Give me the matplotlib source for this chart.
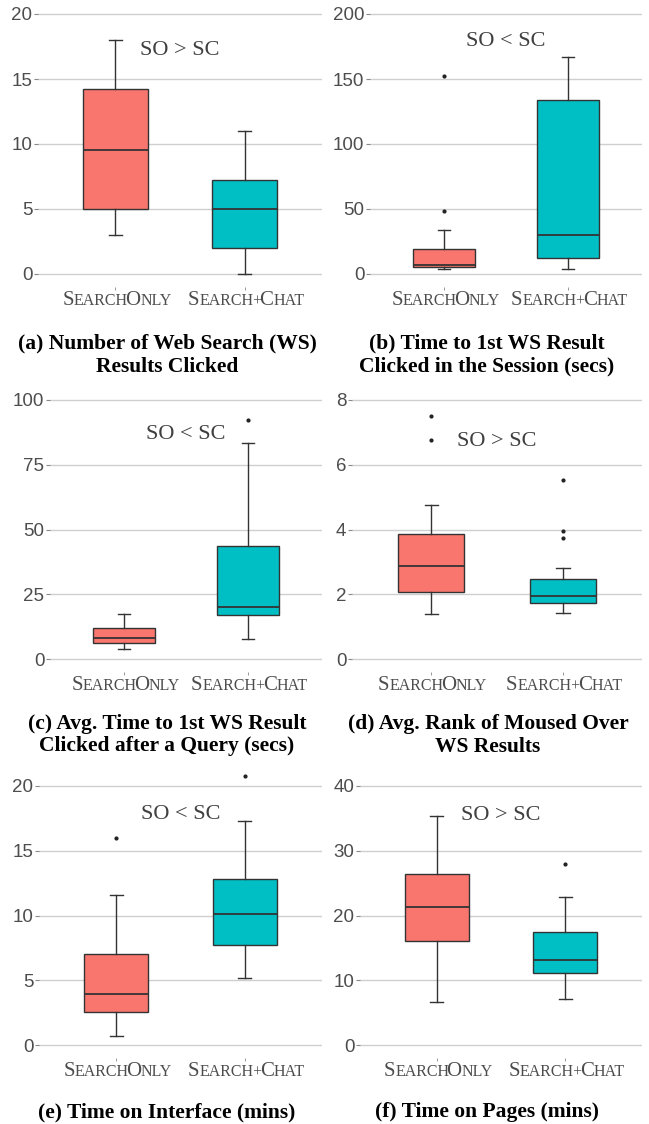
import matplotlib
matplotlib.use("Agg")
import matplotlib.pyplot as plt
from matplotlib.transforms import ScaledTranslation

# box stats: [whisker low, q1, median, q3, whisker high]
clicks_so = [3.0, 5.0, 9.5, 14.2, 18.0]
clicks_so_out = []
clicks_sc = [0.0, 2.0, 5.0, 7.25, 11.0]
clicks_sc_out = []

first_session_so = [3.6, 5.6, 6.9, 19.5, 34.1]
first_session_so_out = [48.8, 152.2]
first_session_sc = [3.6, 12.3, 30.0, 133.8, 166.6]
first_session_sc_out = []

first_query_so = [3.7, 6.3, 8.0, 11.8, 17.5]
first_query_so_out = []
first_query_sc = [7.8, 17.0, 20.2, 43.7, 83.2]
first_query_sc_out = [92.3]

rank_so = [1.39, 2.07, 2.87, 3.85, 4.77]
rank_so_out = [6.75, 7.51]
rank_sc = [1.42, 1.72, 1.96, 2.48, 2.81]
rank_sc_out = [3.75, 3.94, 5.53]

interface_so = [0.72, 2.57, 3.96, 7.02, 11.6]
interface_so_out = [16.0]
interface_sc = [5.14, 7.71, 10.1, 12.83, 17.3]
interface_sc_out = [20.8]

pages_so = [6.6, 16.0, 21.3, 26.4, 35.4]
pages_so_out = []
pages_sc = [7.15, 11.05, 13.2, 17.5, 22.8]
pages_sc_out = [28.0]

group_labels = ["SearchOnly", "Search+Chat"]
tests = ["SO > SC", "SO < SC", "SO < SC", "SO > SC", "SO < SC", "SO > SC"]
captions = [
    "(a) Number of Web Search (WS)\nResults Clicked",
    "(b) Time to 1st WS Result\nClicked in the Session (secs)",
    "(c) Avg. Time to 1st WS Result\nClicked after a Query (secs)",
    "(d) Avg. Rank of Moused Over\nWS Results",
    "(e) Time on Interface (mins)",
    "(f) Time on Pages (mins)",
]
yticks = [
    [0, 5, 10, 15, 20],
    [0, 50, 100, 150, 200],
    [0, 25, 50, 75, 100],
    [0, 2, 4, 6, 8],
    [0, 5, 10, 15, 20],
    [0, 10, 20, 30, 40],
]
test_y = [17.2, 179, 86.5, 6.73, 17.8, 35.5]

W, H = 649, 1124
SO_COLOR = "#F8766D"
SC_COLOR = "#00BFC4"
SERIF = "Liberation Serif"
SANS = "Liberation Sans"

# panel rectangles in pixels: left, right, top, bottom
rects = [
    (38, 322, 1, 287),
    (370, 642, 1, 287),
    (50, 322, 387, 672),
    (352, 642, 387, 672),
    (39, 322, 773, 1058),
    (360, 642, 773, 1058),
]
caption_pos = [(167, 355), (487, 355), (167, 735), (488, 735), (167, 1112), (487, 1112)]

data = [
    (clicks_so, clicks_so_out, clicks_sc, clicks_sc_out),
    (first_session_so, first_session_so_out, first_session_sc, first_session_sc_out),
    (first_query_so, first_query_so_out, first_query_sc, first_query_sc_out),
    (rank_so, rank_so_out, rank_sc, rank_sc_out),
    (interface_so, interface_so_out, interface_sc, interface_sc_out),
    (pages_so, pages_so_out, pages_sc, pages_sc_out),
]


def stats(v, out):
    return dict(whislo=v[0], q1=v[1], med=v[2], q3=v[3], whishi=v[4], fliers=out)


fig = plt.figure(figsize=(W / 100, H / 100), dpi=100)
renderer = fig.canvas.get_renderer()


def small_caps(ax, x, label, drop=18, kern=3):
    # capitals stay big, lower case letters become small capitals
    parts = []
    for ch in label:
        big = ch.isupper()
        if parts and parts[-1][1] == big:
            parts[-1][0] += ch.upper()
        else:
            parts.append([ch.upper(), big])
    base = ax.get_xaxis_transform()
    texts, widths = [], []
    for t, big in parts:
        txt = ax.text(x, 0, t, transform=base, ha="left", va="baseline",
                      family=SERIF, fontsize=15 if big else 11.5, color="#4D4D4D")
        texts.append(txt)
        w = txt.get_window_extent(renderer).width
        widths.append(w if big else w - kern)
    off = -sum(widths) / 2
    for txt, w in zip(texts, widths):
        txt.set_transform(base + ScaledTranslation(off / 100, -drop / 100, fig.dpi_scale_trans))
        off += w


for i in range(6):
    l, r, t, b = rects[i]
    ax = fig.add_axes([l / W, 1 - b / H, (r - l) / W, (b - t) / H])
    so, so_out, sc, sc_out = data[i]
    res = ax.bxp([stats(so, so_out), stats(sc, sc_out)], positions=[1, 2], widths=0.5,
                 patch_artist=True, capwidths=0.1,
                 boxprops=dict(edgecolor="#333333", linewidth=1.0),
                 medianprops=dict(color="#333333", linewidth=1.3),
                 whiskerprops=dict(color="#333333", linewidth=1.0),
                 capprops=dict(color="#333333", linewidth=1.0),
                 flierprops=dict(marker="o", markersize=2, markerfacecolor="#222222",
                                 markeredgecolor="#222222"),
                 zorder=3)
    res["boxes"][0].set_facecolor(SO_COLOR)
    res["boxes"][1].set_facecolor(SC_COLOR)

    yt = yticks[i]
    pad = (yt[-1] - yt[0]) * 0.05
    ax.set_ylim(yt[0] - pad, yt[-1] + pad)
    ax.set_xlim(0.4, 2.6)
    ax.set_yticks(yt)
    ax.set_yticklabels([str(v) for v in yt], family=SANS, fontsize=13.5, color="#4D4D4D")
    ax.set_xticks([1, 2])
    ax.set_xticklabels(["", ""])
    ax.tick_params(axis="y", length=3, width=0.8, color="#888888", pad=1)
    ax.tick_params(axis="x", length=2, width=0.6, color="#888888")
    ax.grid(axis="y", color="#CFCFCF", linewidth=1.0, zorder=0)
    ax.set_axisbelow(True)
    for s in ax.spines.values():
        s.set_visible(False)

    for k in range(2):
        small_caps(ax, k + 1, group_labels[k])
    ax.text(1.5, test_y[i], tests[i], ha="center", va="center", family=SERIF,
            fontsize=16, color="#404040")

    cx, cy = caption_pos[i]
    fig.text(cx / W, 1 - cy / H, captions[i], ha="center", va="center", family=SERIF,
             fontweight="bold", fontsize=15.5, linespacing=1.2, color="black")

fig.savefig("out.png", dpi=100)
